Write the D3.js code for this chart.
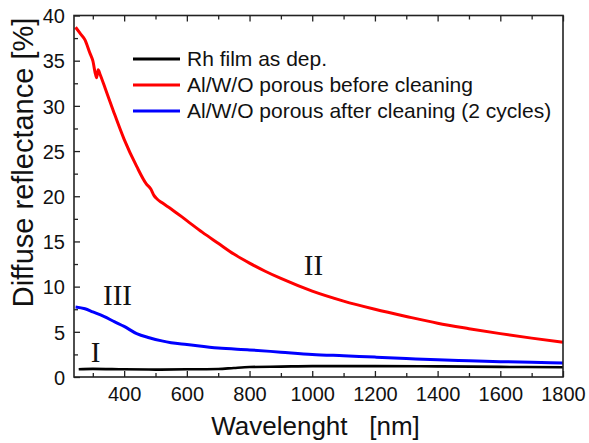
<!DOCTYPE html>
<html><head><meta charset="utf-8">
<script src="https://cdn.jsdelivr.net/npm/d3@7"></script>
<style>body{margin:0;background:#fff}svg{display:block}</style>
</head><body><svg id="c" width="589" height="443"></svg>
<script>
const seriesNames = ["Rh film as dep.", "Al/W/O porous before cleaning", "Al/W/O porous after cleaning (2 cycles)"];
const seriesColors = ["#000000", "#ff0000", "#0000ff"];
const xTicks = [400, 600, 800, 1000, 1200, 1400, 1600, 1800];
const yTicks = [0, 5, 10, 15, 20, 25, 30, 35, 40];

const blackWl = [255, 300, 400, 500, 600, 700, 750, 800, 900, 1000, 1200, 1400, 1600, 1800];
const blackR  = [0.85, 0.9, 0.85, 0.82, 0.85, 0.88, 1.0, 1.1, 1.15, 1.2, 1.2, 1.18, 1.12, 1.08];

const redWl = [245, 260, 275, 290, 300, 312, 317, 323, 340, 365, 400, 440, 470, 485, 495, 505, 520, 550, 600, 650, 700, 750, 800, 850, 900, 1000, 1100, 1200, 1300, 1400, 1500, 1600, 1700, 1800];
const redR  = [38.7, 38.0, 37.3, 35.9, 35.0, 33.1, 34.0, 33.5, 31.9, 29.5, 26.3, 23.3, 21.4, 20.8, 20.1, 19.7, 19.3, 18.6, 17.3, 16.0, 14.8, 13.6, 12.6, 11.7, 10.9, 9.5, 8.4, 7.5, 6.7, 5.95, 5.35, 4.8, 4.3, 3.85];

const blueWl = [245, 275, 300, 335, 370, 400, 440, 480, 520, 550, 600, 700, 800, 900, 1000, 1100, 1200, 1300, 1400, 1500, 1600, 1700, 1800];
const blueR  = [7.75, 7.55, 7.2, 6.7, 6.1, 5.6, 4.8, 4.35, 4.0, 3.8, 3.6, 3.2, 3.0, 2.75, 2.5, 2.35, 2.2, 2.05, 1.9, 1.8, 1.7, 1.62, 1.55];

const svg = d3.select("#c");
svg.append("rect").attr("width", 589).attr("height", 443).attr("fill", "#fff");
const L = 74, R = 563, T = 15.5, B = 377;
const x = d3.scaleLinear().domain([240, 1800]).range([L, R]);
const y = d3.scaleLinear().domain([0, 40]).range([B, T]);

svg.append("clipPath").attr("id", "cp").append("rect")
  .attr("x", L).attr("y", T).attr("width", R - L).attr("height", B - T);

const line = d3.line().x(d => x(d[0])).y(d => y(d[1])).curve(d3.curveMonotoneX);
const data = [
  d3.zip(blackWl, blackR),
  d3.zip(redWl, redR),
  d3.zip(blueWl, blueR)
];
const g = svg.append("g").attr("clip-path", "url(#cp)");
[0, 2, 1].forEach(i => {
  g.append("path").datum(data[i]).attr("d", line)
    .attr("fill", "none").attr("stroke", seriesColors[i])
    .attr("stroke-width", i === 0 ? 2.6 : 3).attr("stroke-linejoin", "round");
});

// axes
const font = "'Liberation Sans', Arial, sans-serif";
const minorX = d3.range(300, 1800, 200);
const minorY = d3.range(2.5, 40, 5);
const axB = svg.append("g").attr("transform", `translate(0,${B})`)
  .call(d3.axisBottom(x).tickValues(xTicks).tickSizeInner(-6).tickSizeOuter(0).tickPadding(10).tickFormat(d3.format("d")));
const axT = svg.append("g").attr("transform", `translate(0,${T})`)
  .call(d3.axisTop(x).tickValues(xTicks).tickSizeInner(-6).tickSizeOuter(0).tickFormat(""));
const axL = svg.append("g").attr("transform", `translate(${L},0)`)
  .call(d3.axisLeft(y).tickValues(yTicks).tickSizeInner(-6).tickSizeOuter(0).tickPadding(10));
const minB = svg.append("g").attr("transform", `translate(0,${B})`)
  .call(d3.axisBottom(x).tickValues(minorX).tickSizeInner(-4).tickSizeOuter(0).tickFormat(""));
const minT = svg.append("g").attr("transform", `translate(0,${T})`)
  .call(d3.axisTop(x).tickValues(minorX).tickSizeInner(-4).tickSizeOuter(0).tickFormat(""));
const minL = svg.append("g").attr("transform", `translate(${L},0)`)
  .call(d3.axisLeft(y).tickValues(minorY).tickSizeInner(-4).tickSizeOuter(0).tickFormat(""));
[axB, axT, axL, minB, minT, minL].forEach(a => {
  a.select(".domain").remove();
  a.selectAll("line").attr("stroke", "#222").attr("stroke-width", 1.3);
  a.selectAll("text").attr("font-family", font).attr("font-size", 20).attr("fill", "#111");
});
axB.selectAll("text").attr("dy", "0.71em");
axL.selectAll("text").attr("x", -9).attr("dy", "0.36em");

svg.append("rect").attr("x", L).attr("y", T).attr("width", R - L).attr("height", B - T)
  .attr("fill", "none").attr("stroke", "#222").attr("stroke-width", 1.6);

// titles
svg.append("text").attr("x", (L + R) / 2 - 3).attr("y", 435).attr("text-anchor", "middle")
  .attr("font-family", font).attr("font-size", 26).attr("fill", "#111")
  .attr("xml:space", "preserve").style("white-space", "pre").text("Wavelenght   [nm]");
svg.append("text").attr("transform", "translate(33,162.5) rotate(-90)").attr("text-anchor", "middle")
  .attr("font-family", font).attr("font-size", 29).attr("fill", "#111").text("Diffuse reflectance [%]");

// legend
const legY = [59, 85, 111];
seriesNames.forEach((n, i) => {
  svg.append("line").attr("x1", 133).attr("x2", 180).attr("y1", legY[i]).attr("y2", legY[i])
    .attr("stroke", seriesColors[i]).attr("stroke-width", 3);
  svg.append("text").attr("x", 187).attr("y", legY[i]).attr("dy", "0.35em")
    .attr("font-family", font).attr("font-size", 21).attr("fill", "#111").text(n);
});

// roman labels
const romans = [["I", 95.5, 362], ["III", 117.5, 305], ["II", 313.5, 275]];
romans.forEach(r => {
  svg.append("text").attr("x", r[1]).attr("y", r[2]).attr("text-anchor", "middle")
    .attr("font-family", "'Liberation Serif', 'Times New Roman', serif").attr("font-size", 29)
    .attr("fill", "#111").text(r[0]);
});
</script></body></html>
